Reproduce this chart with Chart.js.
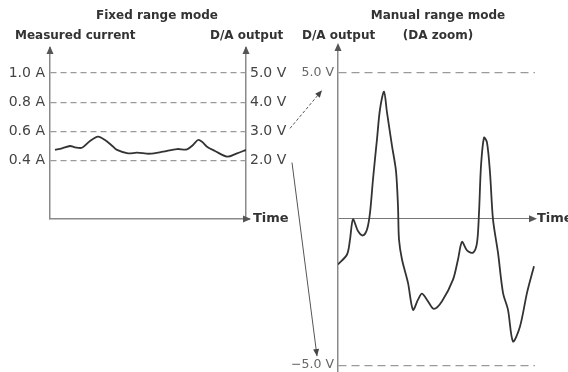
<!DOCTYPE html>
<html>
<head>
<meta charset="utf-8">
<script src="https://cdn.jsdelivr.net/npm/chart.js@4.4.1/dist/chart.umd.min.js"></script>
<style>
body { margin: 0; background: #fff; }
#wrap { position: relative; width: 568px; height: 372px; overflow: hidden; }
#wrap canvas { position: absolute; left: 0; top: 0; }
</style>
</head>
<body>
<div id="wrap">
<canvas id="fixedChart" width="568" height="372"></canvas>
<canvas id="manualChart" width="568" height="384"></canvas>
</div>
<script>
// fixed range mode: measured current (A) over time
var fixedTime = [5, 12, 20, 25, 32, 40, 48, 55, 62, 67, 78, 87, 100, 113, 127, 137, 143, 148, 152, 157, 165, 177, 187, 196];
var fixedCurrent = [0.473, 0.484, 0.5, 0.491, 0.488, 0.534, 0.564, 0.541, 0.502, 0.473, 0.45, 0.454,
                    0.447, 0.461, 0.479, 0.477, 0.507, 0.541, 0.529, 0.495, 0.466, 0.427, 0.45, 0.473];
var currentTicks = [0.4, 0.6, 0.8, 1.0];
var outputTicks = [2.0, 3.0, 4.0, 5.0];

// manual range mode (DA zoom): D/A output (V) over time
var manualTime = [0, 9, 12, 15, 20, 25, 29, 32, 35, 39, 42, 46, 49, 54, 58, 60, 61, 64, 70, 75, 80, 84, 90, 96,
                  104, 115, 120, 124, 129, 135, 139, 141, 143, 146, 149, 152, 155, 160, 165, 170, 175, 182, 189, 196];
var manualOutput = [-1.56, -1.22, -0.71, -0.02, -0.42, -0.57, -0.37, 0.2, 1.35, 2.72, 3.74, 4.34, 3.63, 2.49,
                    1.63, 0.43, -0.71, -1.39, -2.19, -3.11, -2.76, -2.56, -2.82, -3.08, -2.82, -2.08, -1.39,
                    -0.79, -1.08, -1.16, -0.82, 0.2, 1.8, 2.77, 2.6, 1.58, -0.02, -1.16, -2.53, -3.11, -4.19,
                    -3.68, -2.53, -1.62];
var manualTicks = [-5.0, 0, 5.0];

var axisColor = '#8a8a8a';
var dashColor = '#9a9a9a';
var lineColor = '#333';
var textColor = '#333';

function toPoints(xs, ys) {
	return xs.map(function (x, i) { return {x: x, y: ys[i]}; });
}

function arrowHead(ctx, x, y, angle, len, half) {
	ctx.save();
	ctx.translate(x, y);
	ctx.rotate(angle);
	ctx.beginPath();
	ctx.moveTo(0, 0);
	ctx.lineTo(-len, -half);
	ctx.lineTo(-len, half);
	ctx.closePath();
	ctx.fill();
	ctx.restore();
}

function arrowLine(ctx, x1, y1, x2, y2, dash) {
	ctx.save();
	ctx.setLineDash(dash);
	ctx.beginPath();
	ctx.moveTo(x1, y1);
	ctx.lineTo(x2, y2);
	ctx.stroke();
	ctx.restore();
	arrowHead(ctx, x2, y2, Math.atan2(y2 - y1, x2 - x1), 7, 3);
}

var headFont = 'bold 12px "DejaVu Sans"';
var timeFont = 'bold 13px "DejaVu Sans"';

var fixedDecor = {
	id: 'fixedDecor',
	afterDraw: function (chart) {
		var ctx = chart.ctx, a = chart.chartArea;
		ctx.save();
		ctx.fillStyle = '#555';
		ctx.strokeStyle = axisColor;
		ctx.lineWidth = 1.5;
		ctx.beginPath();
		ctx.moveTo(a.right, a.bottom);
		ctx.lineTo(a.right + 4, a.bottom);
		ctx.stroke();
		arrowHead(ctx, a.left, a.top - 2, -Math.PI / 2, 8, 3.5);
		arrowHead(ctx, a.right, a.top - 2, -Math.PI / 2, 8, 3.5);
		arrowHead(ctx, a.right + 5, a.bottom, 0, 8, 3.5);

		ctx.fillStyle = textColor;
		ctx.font = headFont;
		ctx.textBaseline = 'alphabetic';
		ctx.textAlign = 'center';
		ctx.fillText('Fixed range mode', (a.left + a.right) / 2 + 9, 19);
		ctx.textAlign = 'left';
		ctx.fillText('Measured current', 15, 39);
		ctx.fillText('D/A output', a.right - 36, 39);
		ctx.font = timeFont;
		ctx.textBaseline = 'middle';
		ctx.fillText('Time', a.right + 7, a.bottom);
		ctx.restore();
	}
};

var fixedChart = new Chart(document.getElementById('fixedChart'), {
	type: 'line',
	data: {
		datasets: [{
			data: toPoints(fixedTime, fixedCurrent),
			borderColor: lineColor,
			borderWidth: 1.8,
			pointRadius: 0,
			tension: 0.3,
			fill: false
		}]
	},
	options: {
		responsive: false,
		animation: false,
		layout: { padding: { left: 0, right: 272, top: 48, bottom: 153 } },
		plugins: { legend: { display: false }, tooltip: { enabled: false } },
		scales: {
			x: {
				type: 'linear', min: 0, max: 196,
				ticks: { display: false },
				grid: { display: false },
				border: { color: axisColor, width: 1.5 },
				afterFit: function (s) { s.height = 0; }
			},
			y: {
				position: 'left', min: 0, max: 1.171,
				afterBuildTicks: function (s) { s.ticks = currentTicks.map(function (v) { return {value: v}; }); },
				afterFit: function (s) { s.width = 50; },
				ticks: {
					padding: 5, color: '#444',
					font: { family: 'DejaVu Sans', size: 14 },
					callback: function (v) { return v.toFixed(1) + ' A'; }
				},
				grid: { color: dashColor, lineWidth: 1.2, drawTicks: false },
				border: { color: axisColor, width: 1.5, dash: [6, 4] }
			},
			y2: {
				position: 'right', min: 0, max: 1.171 * 5,
				afterBuildTicks: function (s) { s.ticks = outputTicks.map(function (v) { return {value: v}; }); },
				afterFit: function (s) { s.width = 50; },
				ticks: {
					padding: 4, color: '#444',
					font: { family: 'DejaVu Sans', size: 14 },
					callback: function (v) { return v.toFixed(1) + ' V'; }
				},
				grid: { display: false, drawTicks: false },
				border: { color: axisColor, width: 1.5 }
			}
		}
	},
	plugins: [fixedDecor]
});

var manualDecor = {
	id: 'manualDecor',
	afterDraw: function (chart) {
		var ctx = chart.ctx, a = chart.chartArea, y = chart.scales.y;
		var fa = fixedChart.chartArea, fy2 = fixedChart.scales.y2;
		var zero = y.getPixelForValue(0);
		ctx.save();
		ctx.fillStyle = '#555';
		arrowHead(ctx, a.left, a.top - 3, -Math.PI / 2, 8, 3.5);
		arrowHead(ctx, a.right + 2, zero, 0, 8, 3.5);

		// connectors between the two views
		ctx.strokeStyle = '#555';
		ctx.fillStyle = '#444';
		ctx.lineWidth = 1;
		arrowLine(ctx, fa.right + 44, fy2.getPixelForValue(3) - 3, a.left - 16, y.getPixelForValue(5) + 18, [3, 2]);
		arrowLine(ctx, fa.right + 46, fy2.getPixelForValue(2) + 2, a.left - 21, y.getPixelForValue(-5) - 9, []);

		ctx.fillStyle = textColor;
		ctx.font = headFont;
		ctx.textBaseline = 'alphabetic';
		ctx.textAlign = 'center';
		ctx.fillText('Manual range mode', a.left + 100, 19);
		ctx.fillText('(DA zoom)', a.left + 100, 39);
		ctx.textAlign = 'left';
		ctx.fillText('D/A output', a.left - 36, 39);
		ctx.font = timeFont;
		ctx.textBaseline = 'middle';
		ctx.fillText('Time', a.right + 2, zero);
		ctx.restore();
	}
};

var manualChart = new Chart(document.getElementById('manualChart'), {
	type: 'line',
	data: {
		datasets: [{
			data: toPoints(manualTime, manualOutput),
			borderColor: lineColor,
			borderWidth: 1.8,
			pointRadius: 0,
			tension: 0.3,
			fill: false
		}]
	},
	options: {
		responsive: false,
		animation: false,
		layout: { padding: { left: 288, right: 33, top: 46, bottom: 0 } },
		plugins: { legend: { display: false }, tooltip: { enabled: false } },
		scales: {
			x: { type: 'linear', min: 0, max: 197, display: false },
			y: {
				position: 'left', min: -5.25, max: 5.9,
				afterBuildTicks: function (s) { s.ticks = manualTicks.map(function (v) { return {value: v}; }); },
				afterFit: function (s) { s.width = 50; },
				ticks: {
					padding: 4, color: '#666',
					font: { family: 'DejaVu Sans', size: 12.5 },
					callback: function (v) { return v === 0 ? '' : (v < 0 ? '\u2212' : '') + Math.abs(v).toFixed(1) + ' V'; }
				},
				grid: {
					drawTicks: false,
					color: function (c) { return c.tick && c.tick.value === 0 ? '#777' : dashColor; },
					lineWidth: function (c) { return c.tick && c.tick.value === 0 ? 1 : 1.2; }
				},
				border: {
					color: axisColor, width: 1.5,
					dash: function (c) { return c.tick && c.tick.value === 0 ? [] : [8, 5]; }
				}
			}
		}
	},
	plugins: [manualDecor]
});
</script>
</body>
</html>
